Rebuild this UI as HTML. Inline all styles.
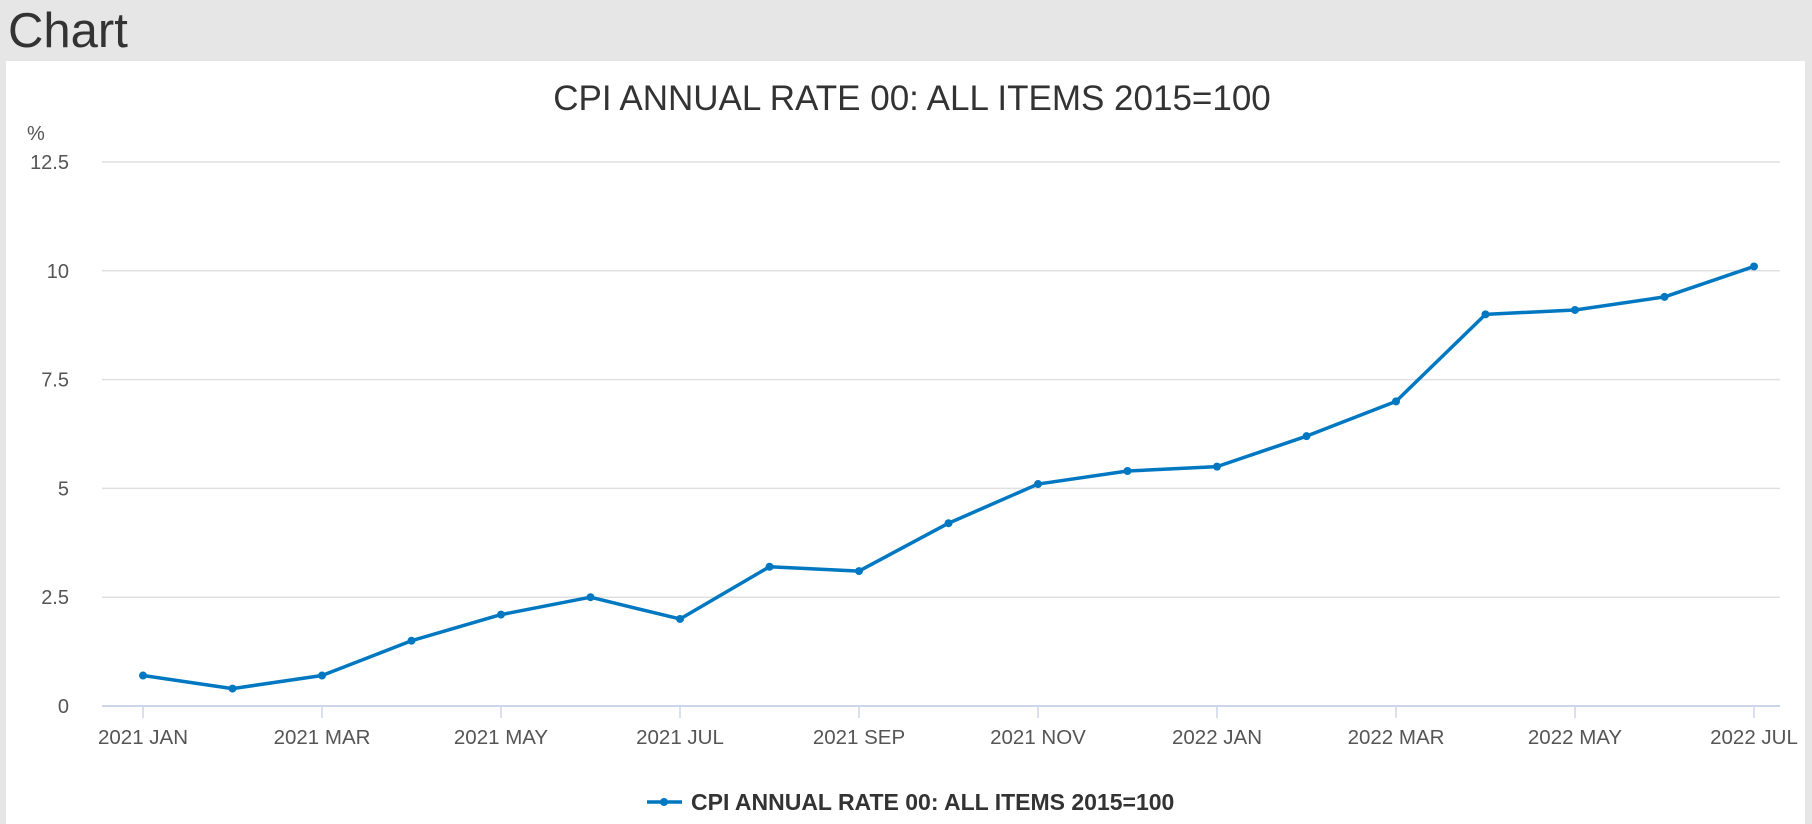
<!DOCTYPE html>
<html><head><meta charset="utf-8"><style>
html,body{margin:0;padding:0;width:1812px;height:824px;overflow:hidden;background:#e6e6e6;font-family:"Liberation Sans",sans-serif;}
#hdr{position:absolute;left:8px;top:3px;font-size:49px;color:#333;}
#panel{position:absolute;left:6px;top:61px;width:1799px;height:763px;background:#fff;}
svg{position:absolute;left:0;top:0;}
</style></head><body>
<div id="hdr">Chart</div>
<div id="panel"></div>
<svg id="chart" width="1812" height="824">
<text x="912" y="110" font-size="35" fill="#333" text-anchor="middle">CPI ANNUAL RATE 00: ALL ITEMS 2015=100</text>
<text x="27" y="140" font-size="20" fill="#555">%</text>
<g id="grid"></g><g id="xaxis"></g><g id="series"></g>
<g>
<line x1="647" y1="802" x2="682" y2="802" stroke="#0078c1" stroke-width="3.5"/>
<circle cx="664" cy="802" r="4" fill="#0078c1"/>
<text x="691" y="810" font-size="23" font-weight="bold" fill="#333">CPI ANNUAL RATE 00: ALL ITEMS 2015=100</text>
</g>
</svg>
<script>
const categories=["2021 JAN","2021 FEB","2021 MAR","2021 APR","2021 MAY","2021 JUN","2021 JUL","2021 AUG","2021 SEP","2021 OCT","2021 NOV","2021 DEC","2022 JAN","2022 FEB","2022 MAR","2022 APR","2022 MAY","2022 JUN","2022 JUL"];
const values=[0.7,0.4,0.7,1.5,2.1,2.5,2.0,3.2,3.1,4.2,5.1,5.4,5.5,6.2,7.0,9.0,9.1,9.4,10.1];
const yTicks=[0,2.5,5,7.5,10,12.5];
const yTickLabels=["0","2.5","5","7.5","10","12.5"];
const NS="http://www.w3.org/2000/svg";
const L=102,R=1780,X0=143,X1=1754,Y0=706,Y1=162;
const x=i=>X0+(X1-X0)*i/(categories.length-1);
const y=v=>Y0-(Y0-Y1)*v/12.5;
function mk(t,a,p){const e=document.createElementNS(NS,t);for(const k in a)e.setAttribute(k,a[k]);p.appendChild(e);return e;}
const grid=document.getElementById('grid');
yTicks.forEach((v,i)=>{
 if(v>0){const g=mk('line',{x1:L,x2:R,y1:y(v),y2:y(v),stroke:'#e0e0e0','stroke-width':1.5},grid);
 
 }
 const t=mk('text',{x:69,y:y(v)+7,'font-size':20,fill:'#555','text-anchor':'end'},grid);t.textContent=yTickLabels[i];
 
 
});
const xa=document.getElementById('xaxis');
const ax=mk('line',{x1:L,x2:R,y1:Y0,y2:Y0,stroke:'#ccd6eb','stroke-width':2},xa);


categories.forEach((c,i)=>{
 if(i%2)return;
 const tk=mk('line',{x1:x(i),x2:x(i),y1:Y0,y2:Y0+12,stroke:'#ccd6eb','stroke-width':1.5},xa);
 
 
 const t=mk('text',{x:x(i),y:744,'font-size':20.5,fill:'#555','text-anchor':'middle'},xa);t.textContent=c;
 
 
});
const s=document.getElementById('series');
const pl=mk('polyline',{points:values.map((v,i)=>x(i)+','+y(v)).join(' '),fill:'none',stroke:'#0078c1','stroke-width':3.5,'stroke-linejoin':'round'},s);


values.forEach((v,i)=>{
 const c=mk('circle',{cx:x(i),cy:y(v),r:4,fill:'#0078c1'},s);
 
 
});
</script>
</body></html>
